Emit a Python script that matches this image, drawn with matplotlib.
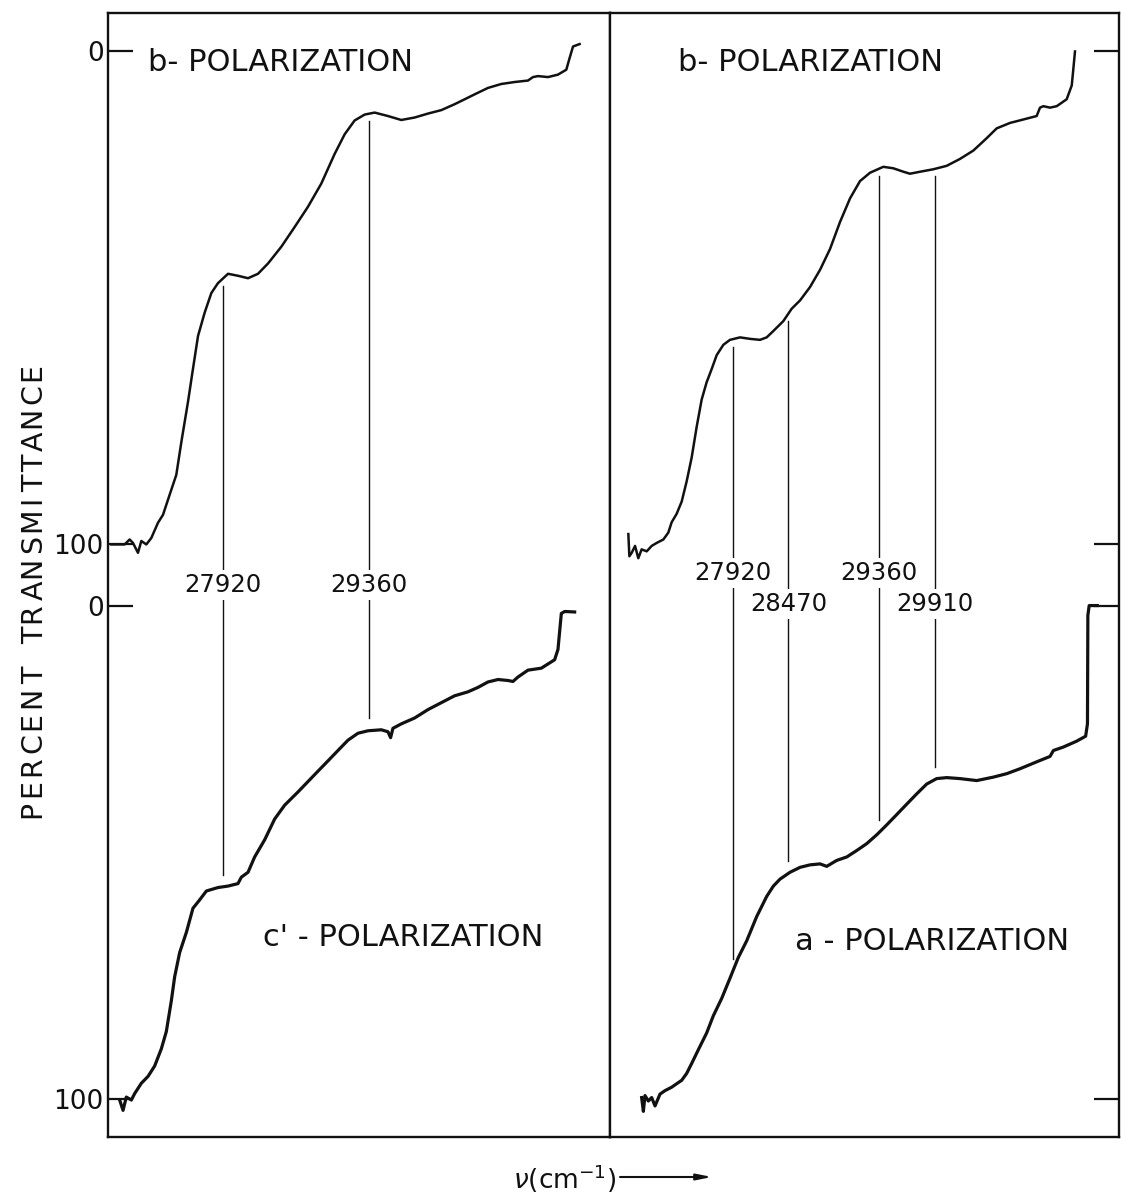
import numpy as np
import matplotlib
matplotlib.use("Agg")
import matplotlib.pyplot as plt
from matplotlib import font_manager, ft2font

# percent transmittance vs wavenumber (cm-1), upper and lower trace of each panel
UL_NU = [26824, 26955, 27004, 27037, 27086, 27119, 27168, 27217, 27283, 27332,
         27398, 27463, 27513, 27578, 27627, 27677, 27742, 27808, 27873, 27972,
         28070, 28169, 28267, 28366, 28497, 28628, 28759, 28890, 29021, 29120,
         29218, 29317, 29415, 29546, 29677, 29809, 29940, 30071, 30202, 30301,
         30399, 30530, 30661, 30793, 30924, 30973, 31022, 31121, 31219, 31301,
         31334, 31367, 31432]
UL_T = [100.0, 100.0, 99.0, 99.7, 101.7, 99.3, 100.0, 98.7, 95.6, 94.0,
        89.9, 85.9, 79.2, 71.1, 64.4, 57.7, 53.0, 49.0, 47.0, 45.1,
        45.5, 46.0, 45.1, 43.0, 39.6, 35.6, 31.5, 26.8, 20.8, 16.8,
        14.0, 12.8, 12.4, 13.1, 13.9, 13.4, 12.6, 11.9, 10.7, 9.7,
        8.7, 7.4, 6.6, 6.2, 5.9, 5.2, 5.0, 5.2, 4.7, 3.7,
        1.3, -1.0, -1.5]

LL_NU = [26906, 26939, 26971, 27021, 27053, 27119, 27185, 27250, 27316, 27365,
         27414, 27447, 27496, 27562, 27627, 27693, 27759, 27873, 27972, 28070,
         28103, 28169, 28234, 28333, 28431, 28529, 28661, 28759, 28857, 28956,
         29054, 29153, 29251, 29349, 29481, 29546, 29572, 29595, 29677, 29809,
         29940, 30071, 30202, 30333, 30432, 30530, 30629, 30727, 30776, 30825,
         30924, 31055, 31186, 31219, 31252, 31285, 31383]
LL_T = [100.3, 102.4, 99.7, 100.3, 99.0, 96.9, 95.5, 93.4, 89.9, 86.4,
        80.2, 75.3, 70.4, 66.3, 61.4, 59.7, 57.9, 57.2, 56.9, 56.4,
        55.1, 54.1, 51.0, 47.5, 43.3, 40.5, 37.8, 35.7, 33.6, 31.5,
        29.4, 27.3, 25.9, 25.4, 25.2, 25.6, 26.8, 24.9, 24.0, 22.8,
        21.1, 19.7, 18.3, 17.5, 16.6, 15.5, 15.0, 15.2, 15.4, 14.5,
        13.1, 12.7, 11.0, 8.9, 1.6, 1.2, 1.3]

UR_NU = [26891, 26901, 26924, 26957, 26989, 27022, 27072, 27121, 27170, 27236,
         27285, 27318, 27367, 27417, 27466, 27515, 27565, 27614, 27663, 27713,
         27762, 27828, 27893, 27992, 28091, 28189, 28255, 28321, 28419, 28501,
         28584, 28682, 28781, 28879, 28978, 29077, 29175, 29274, 29405, 29504,
         29603, 29668, 29767, 29898, 30030, 30161, 30293, 30424, 30523, 30654,
         30786, 30917, 30950, 30983, 31049, 31115, 31213, 31263, 31279, 31295]
UR_T = [97.9, 102.4, 101.7, 100.3, 102.8, 101.0, 101.4, 100.3, 99.7, 99.0,
        97.6, 95.5, 93.8, 91.3, 87.2, 82.4, 76.1, 70.6, 67.1, 64.4,
        61.6, 59.5, 58.5, 58.0, 58.3, 58.5, 58.0, 56.7, 54.7, 52.2,
        50.5, 47.8, 44.3, 40.1, 34.6, 29.8, 26.3, 24.6, 23.4, 23.7,
        24.4, 24.8, 24.4, 23.9, 23.2, 21.8, 20.1, 17.6, 15.6, 14.5,
        13.8, 13.1, 11.4, 11.1, 11.4, 11.1, 9.7, 6.9, 3.5, 0.0]

LR_NU = [27022, 27039, 27055, 27088, 27121, 27154, 27203, 27252, 27318, 27367,
         27417, 27466, 27515, 27581, 27663, 27729, 27811, 27893, 27975, 28058,
         28156, 28255, 28321, 28386, 28485, 28584, 28682, 28781, 28847, 28945,
         29044, 29142, 29241, 29340, 29438, 29537, 29635, 29734, 29833, 29931,
         30030, 30161, 30326, 30490, 30622, 30753, 30917, 31049, 31082, 31180,
         31312, 31400, 31418, 31422, 31435, 31515]
LR_T = [99.8, 102.6, 99.4, 100.5, 99.8, 101.5, 99.1, 98.4, 97.7, 97.0,
        96.3, 94.9, 92.9, 90.1, 86.7, 83.2, 79.7, 75.6, 71.4, 68.0,
        63.1, 59.0, 56.9, 55.5, 54.1, 53.1, 52.6, 52.4, 52.9, 51.7,
        51.0, 49.7, 48.3, 46.5, 44.5, 42.4, 40.3, 38.2, 36.2, 35.1,
        34.9, 35.1, 35.5, 34.8, 34.1, 33.1, 31.7, 30.6, 29.4, 28.7,
        27.5, 26.5, 24.0, 2.0, 0.0, 0.0]

LEFT_PEAKS = [27920, 29360]
RIGHT_PEAKS = [27920, 28470, 29360, 29910]
LEFT_TITLES = ["b- POLARIZATION", "c' - POLARIZATION"]
RIGHT_TITLES = ["b- POLARIZATION", "a - POLARIZATION"]
TICK_LABELS = ["0", "100", "0", "100"]
Y_TITLE = "PERCENT TRANSMITTANCE"

INK = "#111111"
OFFSET = 112.4          # vertical shift of the lower trace
YLIM = (220.2, -7.8)
W, H = 1121, 1197

fig = plt.figure(figsize=(W / 100, H / 100), dpi=100)
fig.patch.set_facecolor("white")


def px_rect(x0, x1, y0, y1):
    return [x0 / W, 1 - y1 / H, (x1 - x0) / W, (y1 - y0) / H]


def draw_panel(ax, up_nu, up_t, lo_nu, lo_t, peaks, label_y, titles, title_xy, xlim):
    up_t = np.asarray(up_t, float)
    lo_t = np.asarray(lo_t, float)
    ax.plot(up_nu, up_t, color=INK, lw=1.8, zorder=3)
    ax.plot(lo_nu, lo_t + OFFSET, color=INK, lw=2.3, zorder=3)

    for nu, yb in zip(peaks, label_y):
        top = np.interp(nu, up_nu, up_t) + 1.5
        bot = OFFSET + np.interp(nu, lo_nu, lo_t) - 2.5
        ax.plot([nu, nu], [top, bot], color=INK, lw=1.0, zorder=2)
        ax.text(nu, yb, str(nu), ha="center", va="baseline", fontsize=17.5,
                color=INK, zorder=4,
                bbox=dict(boxstyle="square,pad=0.12", fc="white", ec="none"))

    for txt, (tx, ty) in zip(titles, title_xy):
        ax.text(tx, ty, txt, ha="left", va="baseline", fontsize=22, color=INK)

    ax.set_xlim(*xlim)
    ax.set_ylim(*YLIM)
    ax.set_xticks([])
    ax.set_yticks([0, 100, OFFSET, OFFSET + 100])
    for sp in ax.spines.values():
        sp.set_linewidth(1.7)
        sp.set_color(INK)


ax_l = fig.add_axes(px_rect(108, 610, 13, 1137))
ax_r = fig.add_axes(px_rect(610, 1119, 13, 1137))

draw_panel(ax_l, UL_NU, UL_T, LL_NU, LL_T, LEFT_PEAKS, [109.6, 109.6],
           LEFT_TITLES, [(27185, 3.9), (28316, 181.4)], (26791, 31731))
draw_panel(ax_r, UR_NU, UR_T, LR_NU, LR_T, RIGHT_PEAKS, [107.2, 113.5, 107.2, 113.5],
           RIGHT_TITLES, [(27380, 3.9), (28534, 182.3)], (26710, 31729))

ax_l.set_yticklabels(TICK_LABELS)
ax_l.tick_params(axis="y", direction="in", length=18, width=1.6, color=INK,
                 labelsize=19, labelcolor=INK, pad=3, left=True, right=False)
ax_r.yaxis.tick_right()
ax_r.tick_params(axis="y", direction="in", length=18, width=1.6, color=INK,
                 labelright=False, left=False, right=True)


def tracked_ylabel(text, x_base, y_mid, length, size):
    # letter-spaced vertical lettering: one glyph per text, even ink gaps
    ft = ft2font.FT2Font(font_manager.findfont("DejaVu Sans"))
    ft.set_size(size, fig.dpi)
    items = []
    for ch in text:
        if ch == " ":
            items.append((None, size * fig.dpi / 72 * 0.55, 0.0))
            continue
        ft.set_text(ch, 0.0)
        ink_w = ft.get_width_height()[0] / 64
        bearing = ft.get_bitmap_offset()[0] / 64
        t = fig.text(0, 0, ch, fontsize=size, color=INK, ha="left",
                     va="baseline", rotation=90, rotation_mode="anchor")
        items.append((t, ink_w, bearing))
    gap = (length - sum(w for _, w, _ in items)) / (len(items) - 1)
    pos = (H - y_mid) - length / 2
    for t, w, bearing in items:
        if t is not None:
            t.set_position(((x_base - bearing) / W, pos / H))
        pos += w + gap


tracked_ylabel(Y_TITLE, 43, 590, 455, 20.5)

fig.text(513 / W, 1 - 1189 / H, r"$\nu$(cm$^{-1}$)", fontsize=19, color=INK,
         ha="left", va="baseline")
ax_l.annotate("", xy=(712 / W, 1 - 1177 / H), xytext=(620 / W, 1 - 1177 / H),
              xycoords="figure fraction", textcoords="figure fraction",
              annotation_clip=False,
              arrowprops=dict(arrowstyle="-|>,head_length=0.9,head_width=0.18",
                              lw=1.5, color=INK, shrinkA=0, shrinkB=0))

fig.savefig("out.png", dpi=100, facecolor="white")
